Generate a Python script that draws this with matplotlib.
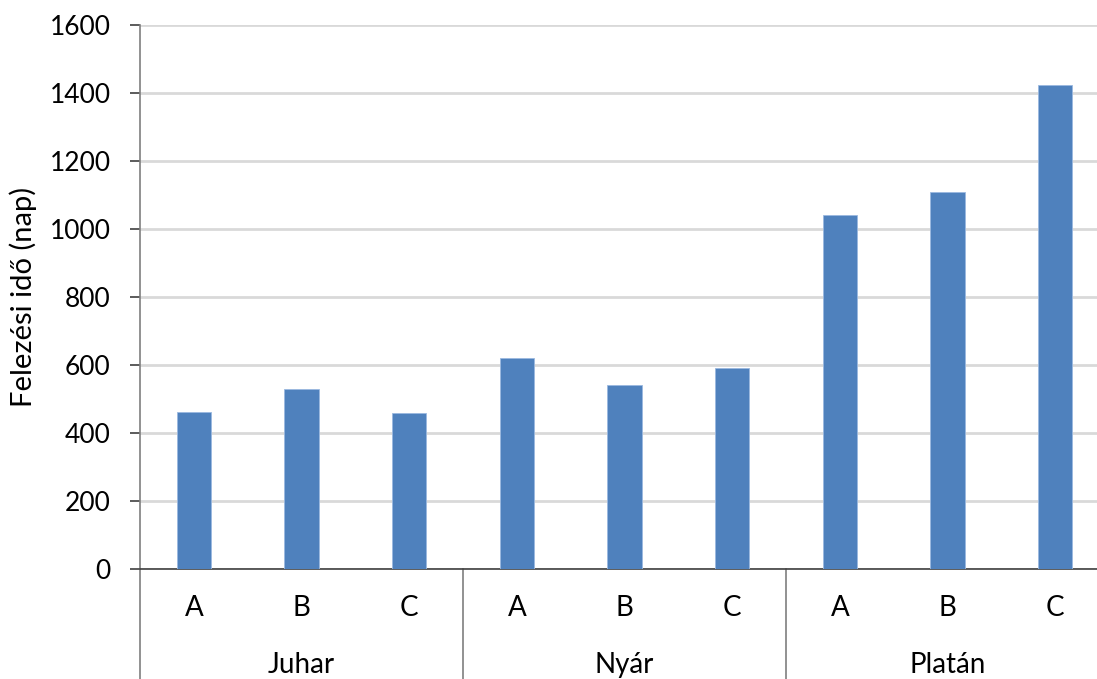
import numpy as np
import matplotlib.pyplot as plt
from matplotlib import transforms

plt.rcParams['font.family'] = ['Lato', 'DejaVu Sans']

groups = ['Juhar', 'Nyár', 'Platán']
sub_labels = ['A', 'B', 'C']
values = [463, 530, 459, 622, 541, 591, 1040, 1110, 1423]

fig = plt.figure(figsize=(10.97, 6.79), dpi=100)
W, H = 1097, 679
left, right, top, bottom = 140, 1109, 25, 569
ax = fig.add_axes([left / W, 1 - bottom / H, (right - left) / W, (bottom - top) / H])

x = np.arange(len(values))
ax.bar(x, values, width=0.316, color='#4f81bd', edgecolor='#9bb9e0', linewidth=0.6, zorder=3)

ax.set_xlim(-0.5, len(values) - 0.5)
ax.set_ylim(0, 1600)
ax.set_yticks(np.arange(0, 1601, 200))
ax.yaxis.grid(True, color='#d9d9d9', linewidth=2.0, zorder=0)
ax.tick_params(axis='y', direction='out', length=7, width=1.2, color='#404040',
               labelsize=19, pad=14)
ax.tick_params(axis='x', length=0, labelbottom=False)

for s in ['top', 'right']:
    ax.spines[s].set_visible(False)
ax.spines['left'].set_color('#7f7f7f')
ax.spines['left'].set_linewidth(1.2)
ax.spines['bottom'].set_color('#404040')
ax.spines['bottom'].set_linewidth(1.2)

ax.set_ylabel('Felezési idő (nap)', fontsize=21, labelpad=9)

# two-level category axis
trans = transforms.blended_transform_factory(ax.transData, ax.transAxes)
px = 1.0 / (bottom - top)
for i, lab in enumerate(sub_labels * len(groups)):
    ax.text(i, -39 * px, lab, transform=trans, ha='center', va='center', fontsize=20)
for g, name in enumerate(groups):
    ax.text(g * 3 + 1, -96 * px, name, transform=trans, ha='center', va='center', fontsize=20)
for g in range(len(groups) + 1):
    xs = g * 3 - 0.5
    ax.plot([xs, xs], [0, -115 * px], transform=trans, color='#7f7f7f', linewidth=1.2,
            clip_on=False)

fig.savefig('out.png', dpi=100)
